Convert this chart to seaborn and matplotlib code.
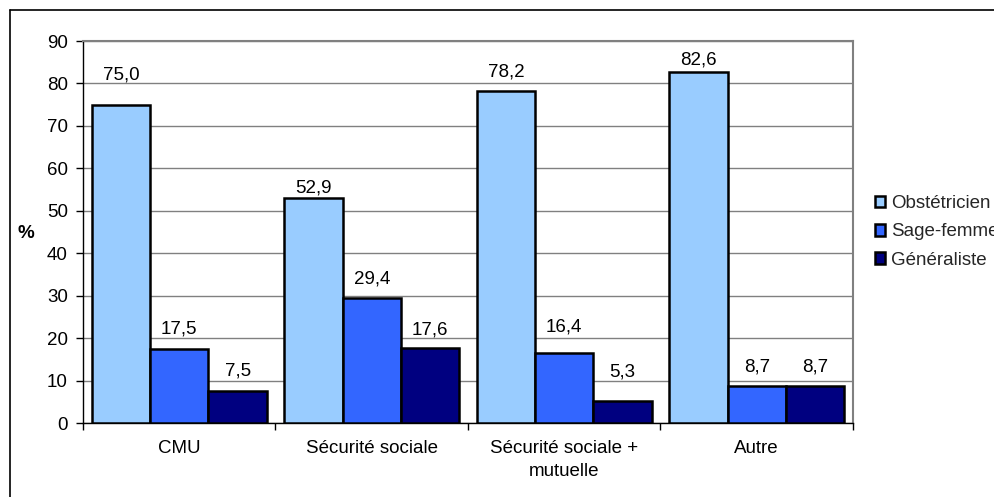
import matplotlib
matplotlib.use("Agg")
import matplotlib.pyplot as plt
from matplotlib.lines import Line2D
import seaborn as sns
import pandas as pd

# Data
categories = ["CMU", "Sécurité sociale", "Sécurité sociale +\nmutuelle", "Autre"]
series = ["Obstétricien", "Sage-femme", "Généraliste"]
obstetricien = [75.0, 52.9, 78.2, 82.6]
sage_femme = [17.5, 29.4, 16.4, 8.7]
generaliste = [7.5, 17.6, 5.3, 8.7]
y_ticks = [0, 10, 20, 30, 40, 50, 60, 70, 80, 90]

# Label placement above each bar (pixels), per series
label_offsets = [[25, 6, 15, 8], [15, 15, 22, 15], [16, 14, 24, 15]]
colors = ["#99CCFF", "#3366FF", "#000080"]

values = [obstetricien, sage_femme, generaliste]
df = pd.DataFrame(
    [(c, s, v) for s, vals in zip(series, values) for c, v in zip(categories, vals)],
    columns=["categorie", "professionnel", "pourcentage"],
)

sns.set_theme(style="white")
plt.rcParams["font.family"] = ["Liberation Sans", "DejaVu Sans"]
FS = 13.5

W, H = 995, 497
fig = plt.figure(figsize=(W / 100, H / 100), dpi=100)
ax = fig.add_axes([83 / W, 1 - 423 / H, (853 - 83) / W, (423 - 41) / H])

sns.barplot(
    data=df, x="categorie", y="pourcentage", hue="professionnel",
    order=categories, hue_order=series, palette=colors, saturation=1,
    edgecolor="black", linewidth=1.8, width=0.91, gap=0,
    errorbar=None, ax=ax, zorder=3,
)

handles, labels = ax.get_legend_handles_labels()
if ax.get_legend() is not None:
    ax.get_legend().remove()

ax.set_ylim(0, 90)
ax.set_xlim(-0.5, len(categories) - 0.5)
ax.set_yticks(y_ticks)
ax.set_xlabel("")
ax.set_ylabel("")
ax.grid(axis="y", color="#808080", linewidth=1.0, zorder=0)
ax.grid(axis="x", visible=False)
ax.set_axisbelow(True)

for side in ["left", "bottom"]:
    ax.spines[side].set_color("black")
    ax.spines[side].set_linewidth(1.0)
for side in ["top", "right"]:
    ax.spines[side].set_color("#808080")
    ax.spines[side].set_linewidth(1.5)

ax.tick_params(axis="y", direction="out", length=5, width=1, color="black",
               left=True, pad=6, labelsize=FS, labelcolor="black")
ax.tick_params(axis="x", which="major", length=0, pad=12, labelsize=FS,
               labelcolor="black")
ax.set_xticks([i - 0.5 for i in range(len(categories) + 1)], minor=True)
ax.tick_params(axis="x", which="minor", direction="out", length=5, width=1,
               color="black", bottom=True)
for t in ax.get_xticklabels():
    t.set_linespacing(1.5)
    t.set_multialignment("center")

# Value labels (French decimal comma)
for container, vals, offs in zip(ax.containers, values, label_offsets):
    for bar, v, off in zip(container, vals, offs):
        ax.annotate(
            f"{v:.1f}".replace(".", ","),
            xy=(bar.get_x() + bar.get_width() / 2, bar.get_height()),
            xytext=(0, off), textcoords="offset pixels",
            ha="center", va="baseline", fontsize=FS, color="black",
        )

fig.text(26 / W, 1 - 233 / H, "%", fontsize=FS, fontweight="bold",
         ha="center", va="center", color="black")

fig.legend(
    handles, labels, loc="center left",
    bbox_to_anchor=(875 / W, 1 - 232 / H), frameon=False,
    fontsize=FS, handlelength=0.55, handleheight=0.55, handletextpad=0.3,
    labelspacing=0.6, borderaxespad=0, borderpad=0,
)
for h in handles:
    h.set_edgecolor("black")
    h.set_linewidth(1.2)

# Outer chart frame
fig.add_artist(Line2D([10 / W, 1.0], [1 - 10 / H, 1 - 10 / H],
                      transform=fig.transFigure, color="black", linewidth=1.2))
fig.add_artist(Line2D([10 / W, 10 / W], [1 - 10 / H, 0.0],
                      transform=fig.transFigure, color="black", linewidth=1.2))

fig.savefig("out.png", dpi=100, facecolor="white")
